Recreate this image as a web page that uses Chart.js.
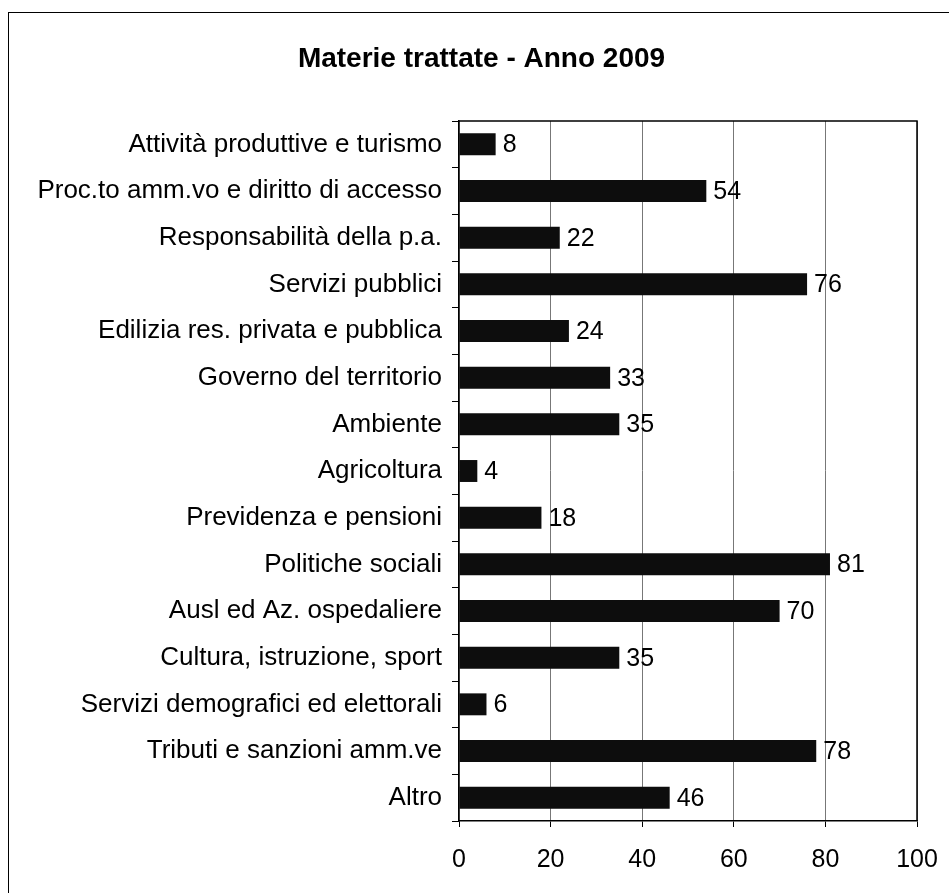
<!DOCTYPE html>
<html><head><meta charset="utf-8">
<script src="https://cdn.jsdelivr.net/npm/chart.js@4.4.0/dist/chart.umd.min.js"></script>
<style>
html,body{margin:0;padding:0;background:#fff;overflow:hidden;}
#wrap{position:absolute;left:0;top:0;width:949px;height:893px;}
#frame{position:absolute;left:8px;top:12px;width:960px;height:900px;border-left:1.5px solid #000;border-top:1.5px solid #000;box-sizing:border-box;}
canvas{position:absolute;left:0;top:0;}
</style></head>
<body>
<div id="wrap"><div id="frame"></div><canvas id="c" width="949" height="893"></canvas></div>
<script>
const categories = ["Attività produttive e turismo","Proc.to amm.vo e diritto di accesso","Responsabilità della p.a.","Servizi pubblici","Edilizia res. privata e pubblica","Governo del territorio","Ambiente","Agricoltura","Previdenza e pensioni","Politiche sociali","Ausl ed Az. ospedaliere","Cultura, istruzione, sport","Servizi demografici ed elettorali","Tributi e sanzioni amm.ve","Altro"];
const values = [8,54,22,76,24,33,35,4,18,81,70,35,6,78,46];
const xTicks = [0,20,40,60,80,100];
const titleText = "Materie trattate - Anno 2009";
const FONT = '"Liberation Sans", Arial, sans-serif';

const labelPlugin = {
  id:'vals',
  afterDatasetsDraw(chart){
    const ctx = chart.ctx;
    const meta = chart.getDatasetMeta(0);
    ctx.save();
    ctx.font = '25px ' + FONT;
    ctx.fillStyle = '#000';
    ctx.textBaseline = 'middle';
    ctx.textAlign = 'left';
    meta.data.forEach((bar,i)=>{
      ctx.fillText(String(values[i]), bar.x + 7, bar.y + 1);
    });
    ctx.restore();
  }
};
const boxPlugin = {
  id:'box',
  afterDraw(chart){
    const a = chart.chartArea, ctx = chart.ctx;
    ctx.save();
    ctx.strokeStyle = '#000'; ctx.lineWidth = 1.5;
    ctx.beginPath();
    ctx.moveTo(a.left, a.top); ctx.lineTo(a.right, a.top); ctx.lineTo(a.right, a.bottom);
    ctx.stroke();
    ctx.font = 'bold 28px ' + FONT;
    ctx.fillStyle = '#000';
    ctx.textAlign = 'center';
    ctx.textBaseline = 'alphabetic';
    ctx.fillText(titleText, 481.5, 67);
    ctx.restore();
  }
};

new Chart(document.getElementById('c'), {
  type:'bar',
  data:{labels:categories, datasets:[{data:values, backgroundColor:'#0d0d0d', borderWidth:0, barPercentage:0.47, categoryPercentage:1}]},
  options:{
    indexAxis:'y', responsive:false, animation:false,
    layout:{padding:{left:12,right:32,top:121,bottom:0}},
    plugins:{
      legend:{display:false}, tooltip:{enabled:false}, title:{display:false}
    },
    scales:{
      x:{min:0,max:100, afterBuildTicks(ax){ax.ticks = xTicks.map(v=>({value:v}));},
        afterFit(ax){ax.paddingRight = 0; ax.paddingLeft = 0;},
        ticks:{color:'#000', font:{family:FONT, size:25}, padding:18, maxRotation:0},
        grid:{color:'#777', lineWidth:1, tickLength:6, tickColor:'#000', drawTicks:true},
        border:{color:'#000', width:1.5}},
      y:{afterFit(ax){ax.width = 459 - 12;},
        ticks:{color:'#000', font:{family:FONT, size:26}, padding:10, autoSkip:false},
        grid:{drawOnChartArea:false, tickLength:7, color:'#000', offset:true},
        border:{color:'#000', width:1.5}}
    }
  },
  plugins:[labelPlugin, boxPlugin]
});
</script>
</body></html>
